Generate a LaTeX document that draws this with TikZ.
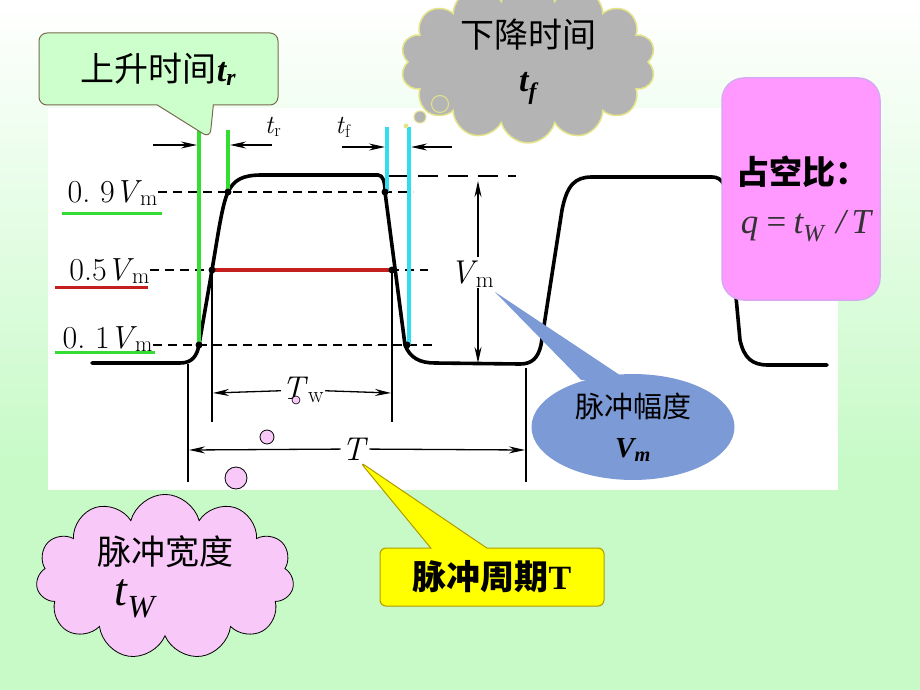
\documentclass[tikz,border=0pt]{standalone}
\usepackage{fontspec}
\usepackage{tikz}
\usetikzlibrary{arrows.meta, shapes.symbols, shapes.callouts, shapes.geometric, positioning, calc}
\newfontfamily\cjk{Noto Sans CJK SC}
\newfontfamily\tnr{Liberation Serif}
\definecolor{bggreen}{HTML}{C8FAC8}
\definecolor{tipgreen}{HTML}{CCFFCC}
\definecolor{tiprim}{HTML}{7A6A50}
\definecolor{risegreen}{HTML}{33DD33}
\definecolor{fallcyan}{HTML}{33DDEE}
\definecolor{halfred}{HTML}{C41E1E}
\definecolor{cloudgray}{HTML}{B4B4B4}
\definecolor{cloudrim}{HTML}{E4E48A}
\definecolor{dutypink}{HTML}{FF99FF}
\definecolor{dutyrim}{HTML}{D9A6F2}
\definecolor{widthpink}{HTML}{F8C8F8}
\definecolor{ampblue}{HTML}{7B9AD6}
\definecolor{periodyellow}{HTML}{FFFF00}
\definecolor{periodrim}{HTML}{B09A00}

\begin{document}
\begin{tikzpicture}[x=1pt, y=-1pt,
  wave/.style={line width=3.6pt, line join=round, line cap=round},
  lvlline/.style={line width=1.3pt, dash pattern=on 9pt off 6pt},
  topline/.style={line width=2.6pt, dash pattern=on 20pt off 10pt},
  extline/.style={line width=1.3pt},
  dimarrow/.style={line width=1.3pt, -{Stealth[length=16pt, width=7pt]}},
  xmark/.style={circle, fill=black, inner sep=0pt, minimum size=7pt},
  lvltext/.style={anchor=base east, inner sep=0pt, font=\fontsize{32}{36}\selectfont},
  dimtext/.style={inner sep=1pt, font=\fontsize{33}{36}\selectfont},
  smalltext/.style={inner sep=1pt, font=\fontsize{26}{30}\selectfont},
  underbar/.style={line width=3pt},
  risebar/.style={line width=4.5pt, risegreen},
  fallbar/.style={line width=4.5pt, fallcyan},
  cjktext/.style={font=\cjk\fontsize{34}{46}\selectfont, align=center},
  bubble/.style={circle, inner sep=0pt}
]
\useasboundingbox (0,0) rectangle (920,690);
\shade[top color=white, bottom color=bggreen] (0,0) rectangle (920,460);
\fill[bggreen] (0,459) rectangle (920,690);
\fill[white] (48,108) rectangle (838,490);

% pulse train
\draw[wave] (92,363) -- (180,363) .. controls (193,363) and (197,355) .. (199,345)
  -- (212,270) .. controls (218,235) and (222,205) .. (228,192)
  .. controls (234,180) and (242,175) .. (262,175) -- (378,175)
  .. controls (383,175) and (385,182) .. (385,192) -- (405,345)
  .. controls (410,358) and (420,363) .. (435,363) -- (520,364)
  .. controls (532,364) and (538,358) .. (541,345) -- (562,210)
  .. controls (567,185) and (575,177) .. (592,177) -- (712,177)
  .. controls (722,177) and (726,185) .. (727,200) -- (740,340)
  .. controls (744,358) and (752,365) .. (768,365) -- (827,365);

\coordinate (r1) at (199,345);
\coordinate (r5) at (212,270);
\coordinate (r9) at (228,192);
\coordinate (f9) at (385,192);
\coordinate (f5) at (392,270);
\coordinate (f1) at (407,345);

\node[lvltext] (l9) at (158,202) {0.\ 9\textit{V}\kern-2pt\textsubscript{m}};
\node[lvltext] (l5) at (150,280) {0.5\textit{V}\kern-2pt\textsubscript{m}};
\node[lvltext] (l1) at (153,348) {0.\ 1\textit{V}\kern-2pt\textsubscript{m}};

\coordinate (d9) at (413,192);
\coordinate (d5) at (428,270);
\coordinate (d1) at (432,345);
\draw[lvlline] (l9.east |- r9) -- (d9);
\draw[lvlline] (l5.east |- r5) -- (d5);
\draw[lvlline] (l1.east |- r1) -- (d1);
\coordinate (tp1) at (388,176);
\coordinate (tp2) at (516,176);
\draw[topline] (tp1) -- (tp2);

\draw[underbar, risegreen] (62,213) -- (162,213);
\draw[underbar, halfred] (55,287) -- (148,287);
\draw[underbar, risegreen] (55,352) -- (155,352);

% rise and fall markers
\coordinate (g1) at (199,130);
\coordinate (g2) at (228,130);
\coordinate (c1) at (387,127);
\coordinate (c2) at (409,127);
\draw[risebar] (g1) -- (r1);
\draw[risebar] (g2) -- (r9);
\draw[fallbar] (c1) -- (387,192);
\draw[fallbar] (c2) -- (409,345);
\draw[line width=3.5pt, halfred] (r5) -- (f5);
\foreach \p in {r1,r5,r9,f9,f5,f1}
  \node[xmark] at (\p) {};

% t_r and t_f
\node[smalltext] (trlbl) at (273,127) {\textit{t}\textsubscript{r}};
\node[smalltext] (tflbl) at (343,127) {\textit{t}\textsubscript{f}};
\coordinate (tra) at (153,145);
\coordinate (trb) at (197,145);
\coordinate (trc) at (272,145);
\coordinate (trd) at (230,145);
\draw[dimarrow] (tra) -- (trb);
\draw[dimarrow] (trc) -- (trd);
\coordinate (tfa) at (342,147);
\coordinate (tfb) at (385,147);
\coordinate (tfc) at (452,147);
\coordinate (tfd) at (411,147);
\draw[dimarrow] (tfa) -- (tfb);
\draw[dimarrow] (tfc) -- (tfd);

% amplitude
\node[dimtext] (vmlbl) at (472,274) {\textit{V}\kern-2pt\textsubscript{m}};
\coordinate (vmtop) at (478,181);
\coordinate (vmbot) at (478,363);
\draw[dimarrow] (478,257) -- (vmtop);
\draw[dimarrow] (478,288) -- (vmbot);

% width and period
\coordinate (tw1) at (212,422);
\coordinate (tw2) at (392,422);
\draw[extline] (r5) -- (tw1);
\draw[extline] (f5) -- (tw2);
\coordinate (pt1) at (188,364);
\coordinate (pt2) at (526,368);
\draw[extline] (pt1) -- (188,482);
\draw[extline] (pt2) -- (526,482);
\node[dimtext] (twlbl) at (303,390) {\textit{T}\textsubscript{w}};
\draw[dimarrow] (twlbl) -- (213,393);
\draw[dimarrow] (twlbl) -- (391,393);
\node[dimtext] (tlbl) at (355,449) {\textit{T}};
\draw[dimarrow] (tlbl) -- (189,450);
\draw[dimarrow] (tlbl) -- (525,450);

% duty cycle box
\node[rounded corners=22pt, fill=dutypink, draw=dutyrim, line width=1.5pt,
  minimum width=158pt, minimum height=222pt] (dutybox) at (801,189) {};
\node[font=\cjk\bfseries\fontsize{33}{36}\selectfont] (dutytitle) at (802,172) {占空比：};
\node[font=\tnr\itshape\fontsize{35}{40}\selectfont, text=black!80] (dutyformula) at (806,226)
  {q\,=\,t\textsubscript{W}\,\,/\,T};

% callouts
\node[rectangle callout, rounded corners=8pt, fill=tipgreen, draw=tiprim, line width=1pt,
  minimum width=239pt, minimum height=72pt, callout pointer width=56pt,
  callout absolute pointer={(210,138)}, cjktext] (risetip) at (158.5,69)
  {上升时间{\tnr\bfseries\itshape t\textsubscript{r}}};

\node[cloud, cloud puffs=14, cloud ignores aspect, fill=cloudgray, draw=cloudrim,
  line width=1.5pt, minimum width=255pt, minimum height=116pt, cjktext] (falltip) at (528,62)
  {下降时间\\[-2pt]{\tnr\bfseries\itshape t\textsubscript{f}}};
\node[bubble, fill=cloudgray, draw=cloudrim, line width=1pt, minimum size=17pt] (fb1) at (440,104) {};
\node[bubble, fill=cloudgray, draw=cloudrim, line width=1pt, minimum size=12pt] (fb2) at (420,117) {};
\node[bubble, fill=cloudrim, minimum size=5pt] (fb3) at (406,126) {};

\coordinate (amppoint) at (495,292);
\node[ellipse, fill=ampblue, minimum width=203pt, minimum height=103pt,
  font=\cjk\fontsize{29}{40}\selectfont, align=center] (amptip) at (633,427)
  {脉冲幅度\\{\tnr\bfseries\itshape V\textsubscript{m}}};
\fill[ampblue] ($(amptip.north)+(-52,6)$) -- (amppoint) -- ($(amptip.north)+(-6,6)$) -- cycle;

\node[rectangle callout, rounded corners=6pt, fill=periodyellow, draw=periodrim, line width=1pt,
  minimum width=224pt, minimum height=58pt, callout pointer width=56pt,
  callout absolute pointer={(360,462)}, font=\cjk\bfseries\fontsize{34}{38}\selectfont] (periodtip) at (492,577)
  {脉冲周期{\tnr T}};

\node[cloud, cloud puffs=11, cloud ignores aspect, fill=widthpink, draw=black, line width=0.8pt,
  minimum width=258pt, minimum height=132pt, cjktext] (widthtip) at (165,577)
  {脉冲宽度\\[-5pt]\hspace*{-60pt}{\tnr\itshape\fontsize{46}{46}\selectfont t\textsubscript{W}}};
\node[bubble, fill=widthpink, draw=black, line width=0.8pt, minimum size=22pt] (wb1) at (236,478) {};
\node[bubble, fill=widthpink, draw=black, line width=0.8pt, minimum size=14pt] (wb2) at (267,437) {};
\node[bubble, fill=widthpink, draw=black, line width=0.6pt, minimum size=8pt] (wb3) at (296,400) {};
\end{tikzpicture}
\end{document}
